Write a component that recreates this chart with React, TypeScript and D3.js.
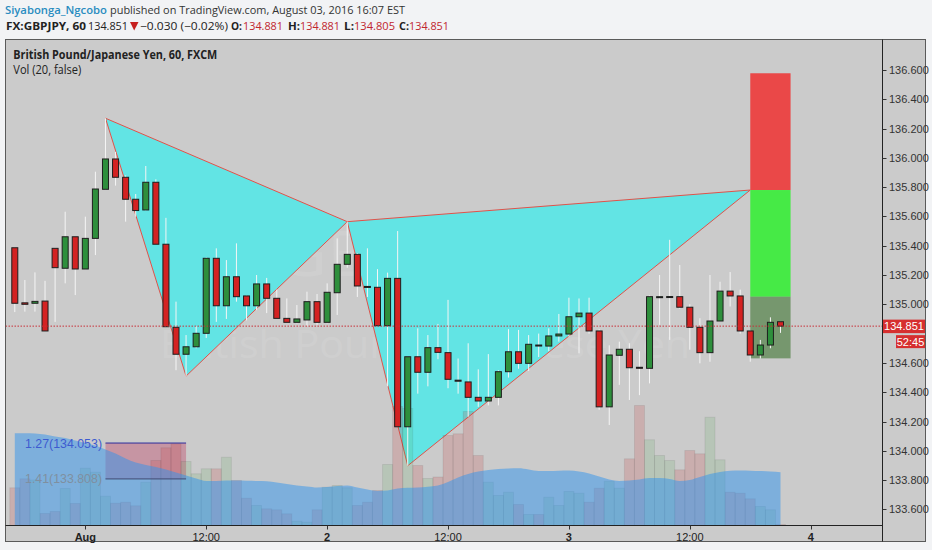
import * as d3 from 'd3';

// hourly candles GBPJPY, 31 Jul 17:00 .. 3 Aug
const opens = [135.386, 135.010, 135.007, 135.022, 135.382, 135.246, 135.461, 135.241, 135.450, 135.785,
  135.992, 135.867, 135.717, 135.644, 135.833, 135.410, 134.843, 134.659, 134.710, 134.802,
  135.314, 134.990, 135.188, 135.057, 134.990, 135.139, 135.041, 134.904, 134.877, 134.893,
  135.018, 134.877, 135.079, 135.273, 135.341, 135.122, 135.116, 134.854, 135.177, 134.164,
  134.642, 134.536, 134.704, 134.670, 134.482, 134.470, 134.365, 134.340, 134.365, 134.540,
  134.676, 134.597, 134.722, 134.715, 134.784, 134.797, 134.915, 134.940, 134.818, 134.300,
  134.652, 134.693, 134.570, 134.563, 135.050, 135.051, 135.052, 134.980, 134.843, 134.670,
  134.886, 135.090, 135.057, 134.818, 134.654, 134.722, 134.881];
const highs = [135.390, 135.166, 135.218, 135.160, 135.385, 135.632, 135.461, 135.598, 135.905, 136.270,
  136.040, 135.880, 135.753, 135.944, 135.853, 135.590, 135.018, 134.790, 134.850, 135.320,
  135.382, 135.302, 135.416, 135.060, 135.200, 135.180, 135.100, 135.040, 134.995, 135.086,
  135.070, 135.143, 135.450, 135.564, 135.350, 135.382, 135.240, 135.216, 135.500, 134.642,
  134.836, 134.790, 134.866, 135.030, 134.630, 134.734, 134.556, 134.660, 134.550, 134.830,
  134.825, 134.790, 134.800, 134.836, 134.934, 135.045, 135.040, 135.045, 134.830, 134.720,
  134.745, 134.734, 134.680, 135.060, 135.200, 135.440, 135.268, 135.000, 134.905, 135.200,
  135.154, 135.220, 135.100, 134.820, 134.757, 134.911, 134.881];
const lows = [134.947, 134.950, 134.950, 134.818, 134.880, 135.143, 135.063, 135.240, 135.336, 135.780,
  135.810, 135.564, 135.598, 135.640, 135.410, 134.847, 134.550, 134.510, 134.700, 134.770,
  134.880, 134.900, 135.018, 134.890, 134.960, 134.940, 134.904, 134.877, 134.870, 134.850,
  134.860, 134.870, 134.927, 135.250, 135.050, 135.050, 134.854, 134.440, 134.164, 133.898,
  134.390, 134.440, 134.625, 134.427, 134.390, 134.233, 134.300, 134.310, 134.310, 134.500,
  134.560, 134.545, 134.640, 134.680, 134.745, 134.780, 134.665, 134.800, 134.280, 134.176,
  134.450, 134.347, 134.380, 134.460, 134.860, 134.757, 134.970, 134.690, 134.597, 134.608,
  134.886, 134.985, 134.800, 134.608, 134.630, 134.700, 134.805];
const closes = [135.007, 135.000, 135.020, 134.818, 135.250, 135.461, 135.241, 135.450, 135.787, 135.992,
  135.867, 135.717, 135.640, 135.833, 135.410, 134.847, 134.659, 134.710, 134.802, 135.314,
  134.990, 135.188, 135.052, 134.990, 135.139, 135.041, 134.904, 134.877, 134.900, 135.018,
  134.877, 135.082, 135.273, 135.341, 135.125, 135.118, 134.854, 135.177, 134.164, 134.642,
  134.536, 134.704, 134.672, 134.488, 134.475, 134.365, 134.340, 134.365, 134.540, 134.676,
  134.597, 134.727, 134.717, 134.784, 134.797, 134.915, 134.940, 134.818, 134.300, 134.654,
  134.693, 134.567, 134.567, 135.052, 135.052, 135.053, 134.980, 134.843, 134.670, 134.886,
  135.090, 135.057, 134.818, 134.654, 134.722, 134.877, 134.851];
const volumes = [377, 467, 455, 120, 140, 370, 220, 573, 533, 293,
  223, 233, 197, 433, 650, 777, 817, 640, 517, 567,
  567, 683, 450, 273, 200, 167, 157, 117, 43, 33,
  157, 383, 400, 377, 200, 233, 350, 610, 1190, 1170,
  600, 470, 485, 900, 917, 1140, 700, 433, 300, 333,
  210, 110, 110, 283, 200, 340, 323, 233, 373, 443,
  373, 667, 1200, 857, 700, 650, 557, 750, 717, 1083,
  657, 333, 323, 267, 190, 157, 10];
// Vol MA(20)
const volMa = [923, 923, 920, 910, 890, 875, 850, 825, 800, 760,
  720, 670, 630, 605, 585, 560, 530, 500, 470, 445,
  445, 450, 450, 447, 445, 443, 430, 415, 400, 390,
  380, 385, 395, 400, 380, 360, 345, 350, 370, 377,
  380, 387, 400, 435, 480, 515, 540, 555, 565, 570,
  572, 560, 545, 545, 548, 550, 540, 520, 490, 460,
  445, 450, 460, 475, 475, 465, 445, 455, 485, 515,
  535, 548, 550, 548, 545, 540, 533];

const priceTicks = [133.6, 133.8, 134.0, 134.2, 134.4, 134.6, 135.0, 135.2, 135.4, 135.6, 135.8, 136.0, 136.2, 136.4, 136.6];
const timeTickIdx = [7, 19, 31, 43, 55, 67, 79];
const timeTickLabels = ['Aug', '12:00', '2', '12:00', '3', '12:00', '4'];

// bat pattern X A B C D (candle index, price)
const patternIdx = [9, 17, 33, 39, 73];
const patternPrice = [136.27, 134.51, 135.564, 133.898, 135.78];
// target / stop box
const boxIdx = [73, 77];
const boxLevels = [136.577, 135.78, 135.052, 134.631];
const fibRatios = ['1.27', '1.41'];
const fibPrices = [134.053, 133.808];
const lastPrice = 134.851;

const PL = 5.5, PR = 882.5, PT = 39.5, PB = 525.5;

const x = d3.scaleLinear().domain([0, 76]).range([14.8, 780.5]);
const y = d3.scaleLinear().domain([133.6, 136.6]).range([509.4, 69.9]);
const yv = d3.scaleLinear().domain([0, 1200]).range([PB, PB - 120]);

const RED = '#d42222';
const GREEN = '#2e8f3c';

export default function App() {
  const n = closes.length;
  const idx = d3.range(n);
  const maArea = d3.area<number>()
    .x(i => x(i))
    .y0(PB)
    .y1(i => yv(volMa[i]))
    .curve(d3.curveMonotoneX);
  const pts = patternIdx.map((k, j) => [x(k), y(patternPrice[j])] as [number, number]);
  const tri1 = [pts[0], pts[1], pts[2]];
  const tri2 = [pts[2], pts[3], pts[4]];
  const bx0 = x(boxIdx[0]), bx1 = x(boxIdx[1]);
  const ui = 'Open Sans, DejaVu Sans, sans-serif';
  const ax = 'Liberation Sans, Arial, sans-serif';
  const numRed = '#c0262e';

  return (
    <svg width={932} height={550} style={{ position: 'absolute', left: 0, top: 0 }}>
      <defs>
        <clipPath id="plot"><rect x={PL} y={PT} width={PR - PL} height={PB - PT} /></clipPath>
      </defs>
      <rect x={0} y={0} width={932} height={550} fill="#f2f3f5" />

      {/* header */}
      <text x={5} y={14} fontFamily={ui} fontSize={11} fontWeight={600} fill="#2a8cc0" textLength={102} lengthAdjust="spacingAndGlyphs">Siyabonga_Ngcobo</text>
      <text x={110} y={14} fontFamily={ui} fontSize={11} fill="#333" textLength={295} lengthAdjust="spacingAndGlyphs">published on TradingView.com, August 03, 2016 16:07 EST</text>
      <g fontFamily={ui} fontSize={11} fill="#222">
        <text x={6} y={30} fontWeight={700} textLength={80} lengthAdjust="spacingAndGlyphs">FX:GBPJPY, 60</text>
        <text x={88} y={30} textLength={40} lengthAdjust="spacingAndGlyphs">134.851</text>
        <polygon points="130,22 138.5,22 134.2,30.5" fill="#c62020" />
        <text x={140} y={30} textLength={88} lengthAdjust="spacingAndGlyphs">−0.030 (−0.02%)</text>
        <text x={231} y={30} fontWeight={700} textLength={11} lengthAdjust="spacingAndGlyphs">O:</text>
        <text x={243} y={30} fill={numRed} textLength={40} lengthAdjust="spacingAndGlyphs">134.881</text>
        <text x={288} y={30} fontWeight={700} textLength={12} lengthAdjust="spacingAndGlyphs">H:</text>
        <text x={300} y={30} fill={numRed} textLength={40} lengthAdjust="spacingAndGlyphs">134.881</text>
        <text x={344} y={30} fontWeight={700} textLength={10} lengthAdjust="spacingAndGlyphs">L:</text>
        <text x={354} y={30} fill={numRed} textLength={41} lengthAdjust="spacingAndGlyphs">134.805</text>
        <text x={399} y={30} fontWeight={700} textLength={10} lengthAdjust="spacingAndGlyphs">C:</text>
        <text x={409} y={30} fill={numRed} textLength={40} lengthAdjust="spacingAndGlyphs">134.851</text>
      </g>

      {/* frame */}
      <rect x={5.5} y={39.5} width={920} height={502} fill="#cbcbcb" stroke="#5a5a5a" />

      <g clipPath="url(#plot)">
        {/* watermark */}
        <text x={450} y={276} textAnchor="middle" fontFamily={ui} fontSize={62} fill="#fff" opacity={0.09} textLength={345} lengthAdjust="spacingAndGlyphs">GBPJPY, 60</text>
        <text x={425} y={358} textAnchor="middle" fontFamily={ui} fontSize={38} fill="#fff" opacity={0.09} textLength={530} lengthAdjust="spacingAndGlyphs">British Pound/Japanese Yen</text>

        {/* fib extension box */}
        <rect x={x(patternIdx[0])} y={y(fibPrices[0])} width={x(patternIdx[1]) - x(patternIdx[0])}
          height={y(fibPrices[1]) - y(fibPrices[0])} fill="rgba(190,50,90,0.35)" />

        {/* pattern */}
        {[tri1, tri2].map((t, k) => (
          <path key={k} d={'M' + t.map(p => p.join(',')).join('L') + 'Z'} fill="#62e4e4" stroke="#e0524a" strokeWidth={1} />
        ))}

        {/* volume */}
        {idx.map(i => (
          <rect key={'v' + i} x={x(i) - 5} y={yv(volumes[i])} width={10} height={PB - yv(volumes[i])}
            fill={closes[i] >= opens[i] ? 'rgba(80,170,80,0.16)' : 'rgba(200,60,60,0.2)'}
            stroke="rgba(0,0,0,0.07)" strokeWidth={1} />
        ))}
        <path d={maArea(idx) || ''} fill="rgba(47,147,237,0.5)" />

        {/* fib levels */}
        {fibPrices.map((p, k) => (
          <line key={'fl' + k} x1={x(patternIdx[0])} x2={x(patternIdx[1])} y1={y(p)} y2={y(p)}
            stroke={k === 0 ? '#2c2c9c' : '#3f4a72'} strokeWidth={1} />
        ))}
        {fibPrices.map((p, k) => (
          <text key={'ft' + k} x={102} y={y(p) + 4.5} textAnchor="end" fontFamily={ax} fontSize={12.5}
            fill={k === 0 ? '#3d5bd0' : '#7f8fa0'} textLength={77} lengthAdjust="spacingAndGlyphs">
            {`${fibRatios[k]}(${p.toFixed(3)})`}
          </text>
        ))}

        {/* target box */}
        <rect x={bx0} y={y(boxLevels[0])} width={bx1 - bx0} height={y(boxLevels[1]) - y(boxLevels[0])} fill="#ea4848" />
        <rect x={bx0} y={y(boxLevels[1])} width={bx1 - bx0} height={y(boxLevels[2]) - y(boxLevels[1])} fill="#46ea46" />
        <rect x={bx0} y={y(boxLevels[2])} width={bx1 - bx0} height={y(boxLevels[3]) - y(boxLevels[2])} fill="rgba(50,110,35,0.55)" />

        {/* candles */}
        {idx.map(i => {
          const up = closes[i] >= opens[i];
          const top = y(Math.max(opens[i], closes[i]));
          const bot = y(Math.min(opens[i], closes[i]));
          return (
            <g key={'c' + i}>
              <line x1={x(i)} x2={x(i)} y1={y(highs[i])} y2={y(lows[i])} stroke="#f5f5f5" strokeWidth={1} />
              <rect x={x(i) - 3} y={top} width={6} height={Math.max(1, bot - top)}
                fill={up ? GREEN : RED} stroke="#1e1e1e" strokeWidth={1} />
            </g>
          );
        })}

        {/* last price line */}
        <line x1={PL} x2={PR} y1={y(lastPrice)} y2={y(lastPrice)} stroke="#c8303a" strokeWidth={1} strokeDasharray="1.5,1.5" />
      </g>

      {/* legend */}
      <text x={13.3} y={58.5} fontFamily={ui} fontSize={12.5} fontWeight={700} fill="#222" textLength={204} lengthAdjust="spacingAndGlyphs">British Pound/Japanese Yen, 60, FXCM</text>
      <text x={13.3} y={74} fontFamily={ui} fontSize={12.5} fill="#222" textLength={68} lengthAdjust="spacingAndGlyphs">Vol (20, false)</text>

      {/* axes */}
      <line x1={PR} x2={PR} y1={PT} y2={541.5} stroke="#222" />
      <line x1={PL} x2={PR} y1={PB} y2={PB} stroke="#222" />
      {priceTicks.map(p => (
        <g key={'p' + p}>
          <line x1={PR} x2={PR + 4} y1={Math.round(y(p)) + 0.5} y2={Math.round(y(p)) + 0.5} stroke="#333" />
          <text x={889} y={y(p) + 4} fontFamily={ax} fontSize={11} fill="#333">{p.toFixed(3)}</text>
        </g>
      ))}
      {timeTickIdx.map((k, j) => (
        <g key={'t' + j}>
          <line x1={Math.round(x(k)) + 0.5} x2={Math.round(x(k)) + 0.5} y1={PB} y2={PB + 4} stroke="#333" />
          <text x={x(k)} y={540.5} textAnchor="middle" fontFamily={ax} fontSize={11}
            fontWeight={timeTickLabels[j] === '12:00' ? 400 : 700} fill="#222">{timeTickLabels[j]}</text>
        </g>
      ))}

      {/* price label */}
      <rect x={883} y={y(lastPrice) - 6.5} width={42} height={13.5} fill="#d62f2f" />
      <text x={904} y={y(lastPrice) + 4} textAnchor="middle" fontFamily={ax} fontSize={11} fill="#fff">{lastPrice.toFixed(3)}</text>
      <rect x={896} y={y(lastPrice) + 9} width={29} height={13} fill="#d62f2f" />
      <text x={910.5} y={y(lastPrice) + 19.5} textAnchor="middle" fontFamily={ax} fontSize={11} fill="#fff">52:45</text>
    </svg>
  );
}
